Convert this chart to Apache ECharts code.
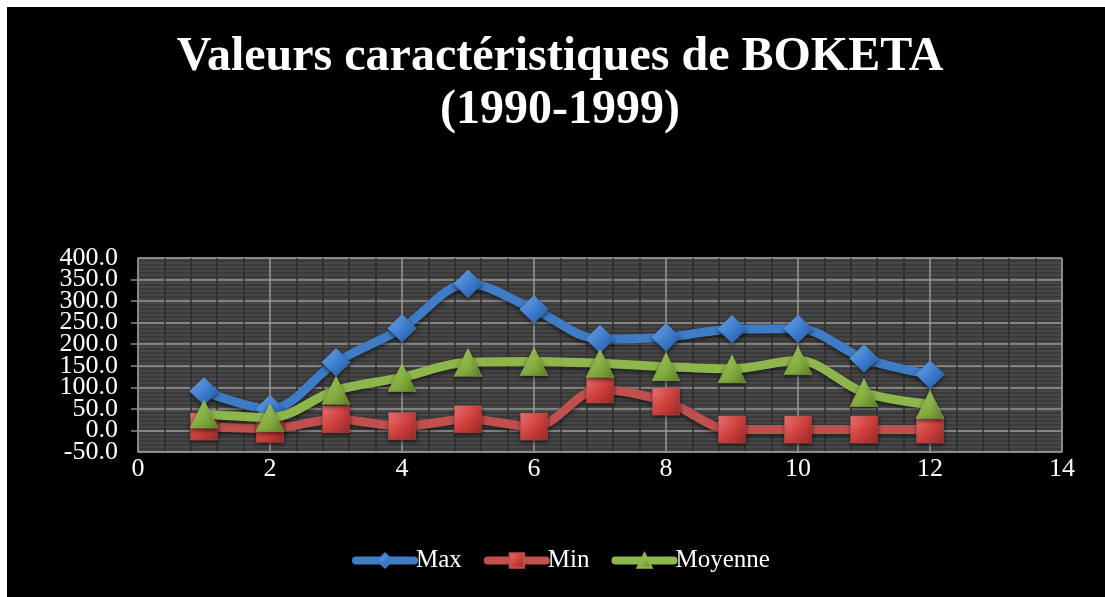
<!DOCTYPE html>
<html>
<head>
<meta charset="utf-8">
<script src="https://cdn.jsdelivr.net/npm/echarts@6/dist/echarts.min.js"></script>
<style>
html,body{margin:0;padding:0;background:#fff;}
#wrap{position:absolute;left:7px;top:7px;width:1098px;height:590px;background:#000;}
#chart{position:absolute;left:-7px;top:-7px;width:1105px;height:597px;}
</style>
</head>
<body>
<div id="wrap"><div id="chart"></div></div>
<script>
const titleText = 'Valeurs caractéristiques de BOKETA\n(1990-1999)';
const xValues = [1,2,3,4,5,6,7,8,9,10,11,12];
const maxValues = [91, 50, 158, 237, 340, 281, 212, 216, 235, 236, 167, 130];
const minValues = [9, 4, 26, 10, 26, 9, 95, 67, 2, 2, 2, 2];
const moyValues = [38, 30, 93, 123, 158, 160, 156, 148, 143, 162, 88, 60];
const seriesNames = ['Max', 'Min', 'Moyenne'];
const yMin = -50, yMax = 400, yStep = 50;

// striped plot background pattern
const pc = document.createElement('canvas');
pc.width = 4; pc.height = 4;
const pctx = pc.getContext('2d');
pctx.fillStyle = '#474747'; pctx.fillRect(0,0,4,4);
pctx.fillStyle = '#3a3a3a'; pctx.fillRect(0,0,4,2);

function grad(light, mid, dark){
  return new echarts.graphic.LinearGradient(0,0,1,1,[
    {offset:0,color:light},{offset:0.5,color:mid},{offset:1,color:dark}]);
}
const styles = [
  {line:'#3f7cc6', sym:'diamond', size:[29,28], g:grad('#7fb0ee','#3f7fd0','#24569a')},
  {line:'#c0504d', sym:'rect', size:[27,27], g:grad('#f07a78','#d0403d','#982a28')},
  {line:'#8fb64c', sym:'triangle', size:[28,28], g:grad('#b8d97a','#8ab444','#5f8228')}
];
const dataSets = [maxValues, minValues, moyValues];

const chart = echarts.init(document.getElementById('chart'), null, {renderer:'canvas'});
const font = '"Liberation Serif","Times New Roman",serif';
const yLabelStyle = {color:'#fff', fontFamily:font, fontSize:26, margin:20};
chart.setOption({
  backgroundColor: 'transparent',
  animation: false,
  title: {
    text: titleText,
    left: 560,
    textAlign: 'center',
    top: 31,
    padding: 0,
    textStyle: {color:'#fff', fontFamily:font, fontWeight:'bold', fontSize:48, lineHeight:53}
  },
  legend: {
    bottom: 19,
    left: 347,
    itemWidth: 58,
    itemHeight: 18,
    itemGap: 22,
    lineStyle: {width: 8, cap: 'round'},
    textStyle: {color:'#fff', fontFamily:font, fontSize:25, padding:[0,0,0,-3]},
    data: seriesNames
  },
  grid: {
    left: 138, right: 43, top: 258, bottom: 145,
    show: true,
    backgroundColor: {image: pc, repeat: 'repeat'},
    borderColor: '#8a8a8a', borderWidth: 1
  },
  xAxis: {
    type: 'value', min: 0, max: 14, interval: 2,
    axisLine: {show:true, onZero:false, lineStyle:{color:'#8a8a8a', width:1.5}},
    axisTick: {show:false},
    minorTick: {show:false, splitNumber:5},
    minorSplitLine: {show:true, lineStyle:{color:'#2e2e2e', width:1.5}},
    splitLine: {show:true, lineStyle:{color:'#9a9a9a', width:1.5}},
    axisLabel: {color:'#fff', fontFamily:font, fontSize:26, margin:4, showMinLabel:true, showMaxLabel:true}
  },
  yAxis: [{
    type: 'value', min: yMin, max: yMax, interval: yStep,
    axisLine: {show:true, lineStyle:{color:'#8a8a8a', width:1.5}},
    axisTick: {show:true, length:7, lineStyle:{color:'#8a8a8a', width:1.5}},
    splitLine: {show:true, lineStyle:{color:'#9a9a9a', width:1.5}},
    axisLabel: Object.assign({showMinLabel:false, showMaxLabel:false,
      formatter: v => v.toFixed(1)}, yLabelStyle)
  }, {
    type: 'value', min: yMin, max: yMax, interval: yStep, position: 'left',
    axisLine: {show:false}, axisTick: {show:false}, splitLine: {show:false},
    axisLabel: Object.assign({showMinLabel:true, showMaxLabel:true,
      formatter: v => (v === yMin || v === yMax) ? v.toFixed(1) : ''}, yLabelStyle)
  }],
  series: dataSets.map((d, i) => ({
    name: seriesNames[i],
    type: 'line',
    smooth: 0.35,
    data: xValues.map((x, k) => [x, d[k]]),
    symbol: styles[i].sym,
    symbolSize: styles[i].size,
    showAllSymbol: true,
    lineStyle: {color: styles[i].line, width: 9, shadowColor:'rgba(0,0,0,0.6)', shadowBlur:4, shadowOffsetY:2},
    itemStyle: {color: styles[i].g, borderColor: styles[i].line, borderWidth: 0.5,
      shadowColor:'rgba(0,0,0,0.6)', shadowBlur:4, shadowOffsetY:2},
    z: 3 + i
  }))
});
</script>
</body>
</html>
